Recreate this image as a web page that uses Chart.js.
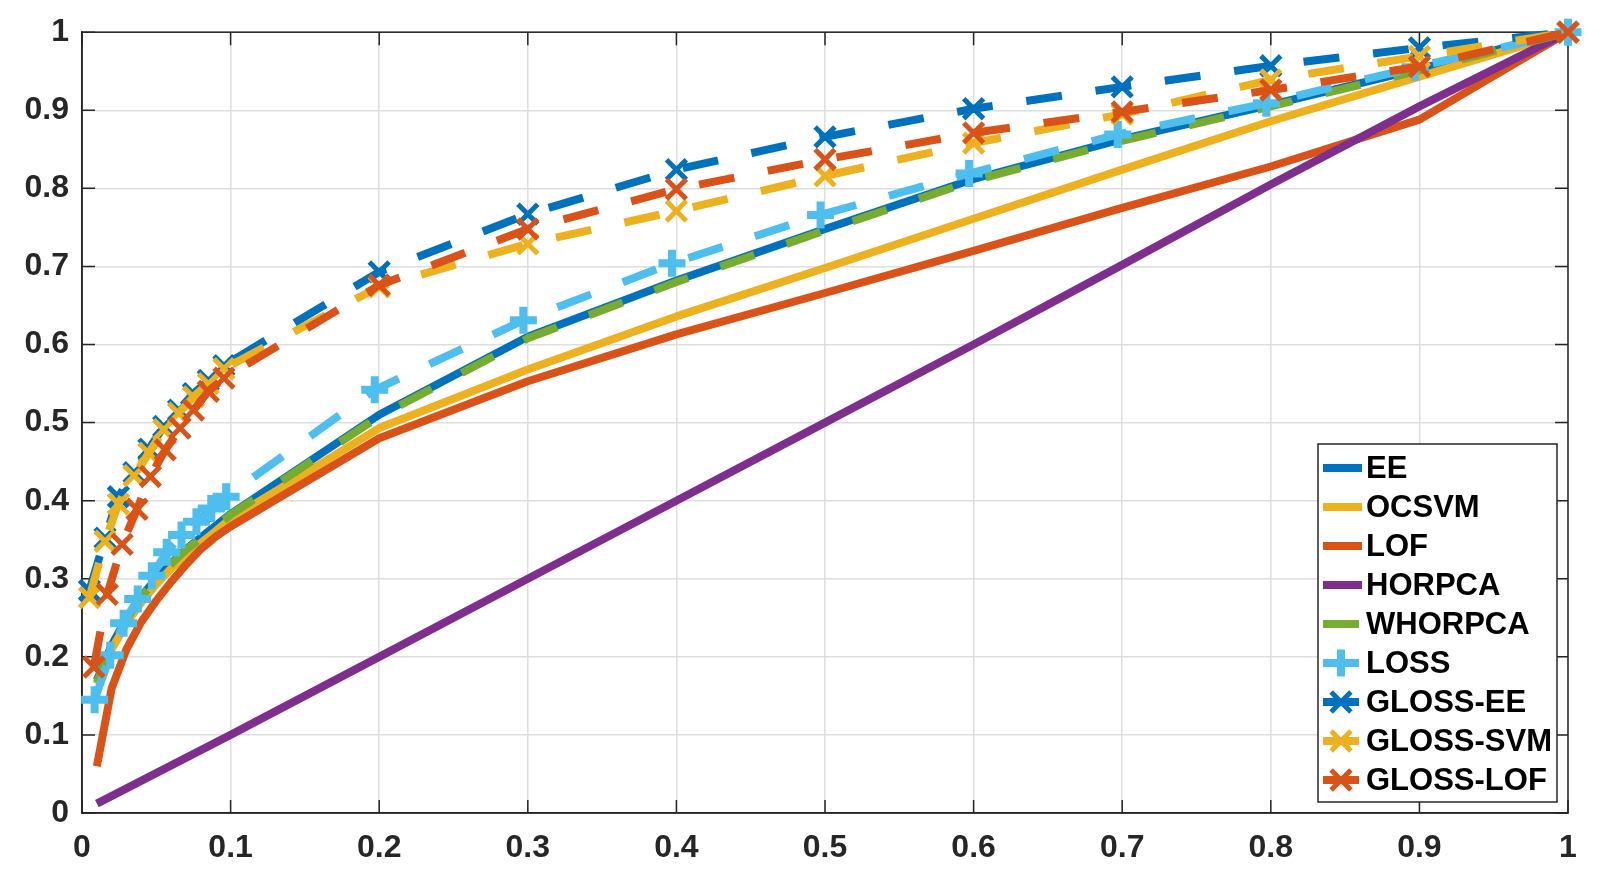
<!DOCTYPE html>
<html>
<head>
<meta charset="utf-8">
<script src="https://cdn.jsdelivr.net/npm/chart.js@4.4.1/dist/chart.umd.min.js"></script>
<style>
  html, body { margin: 0; padding: 0; background: #fff; }
  canvas { display: block; }
</style>
</head>
<body>
<canvas id="roc" width="1605" height="895" style="width:1605px;height:895px"></canvas>
<script>
// axis ticks
const xTicks = [0, 0.1, 0.2, 0.3, 0.4, 0.5, 0.6, 0.7, 0.8, 0.9, 1];
const yTicks = [0, 0.1, 0.2, 0.3, 0.4, 0.5, 0.6, 0.7, 0.8, 0.9, 1];
const xTickLabels = ['0', '0.1', '0.2', '0.3', '0.4', '0.5', '0.6', '0.7', '0.8', '0.9', '1'];
const yTickLabels = ['0', '0.1', '0.2', '0.3', '0.4', '0.5', '0.6', '0.7', '0.8', '0.9', '1'];

// false positive rates (x)
const baseFpr = [0.01, 0.02, 0.03, 0.04, 0.05, 0.06, 0.07, 0.08, 0.09, 0.1, 0.2, 0.3, 0.4, 0.5, 0.6, 0.7, 0.8, 0.9, 1];
const horpcaFpr = [0.01, 0.1, 0.2, 0.3, 0.4, 0.5, 0.6, 0.7, 0.8, 0.9, 1];
const lossFpr = [0.0085, 0.019, 0.028, 0.0375, 0.047, 0.057, 0.067, 0.077, 0.087, 0.097, 0.197, 0.297, 0.397, 0.497, 0.597, 0.697, 0.797, 0.897, 1];
const glossFpr = [0.005, 0.0155, 0.0245, 0.035, 0.045, 0.055, 0.065, 0.075, 0.085, 0.0955, 0.2, 0.3, 0.4, 0.5, 0.6, 0.7, 0.8, 0.9, 1];
const glossLofFpr = [0.008, 0.017, 0.027, 0.037, 0.046, 0.056, 0.066, 0.075, 0.085, 0.0955, 0.2, 0.3, 0.4, 0.5, 0.6, 0.7, 0.8, 0.9, 1];

// true positive rates (y)
const eeTpr = [0.17, 0.215, 0.25, 0.278, 0.30, 0.32, 0.338, 0.353, 0.368, 0.383, 0.51, 0.61, 0.682, 0.748, 0.812, 0.863, 0.907, 0.953, 1];
const ocsvmTpr = [0.165, 0.21, 0.243, 0.27, 0.293, 0.313, 0.331, 0.346, 0.361, 0.377, 0.493, 0.568, 0.636, 0.698, 0.761, 0.824, 0.886, 0.943, 1];
const lofTpr = [0.06, 0.16, 0.21, 0.245, 0.272, 0.296, 0.318, 0.338, 0.354, 0.367, 0.48, 0.553, 0.613, 0.666, 0.72, 0.775, 0.828, 0.888, 1];
const horpcaTpr = [0.012, 0.1, 0.2, 0.3, 0.4, 0.5, 0.6, 0.702, 0.805, 0.905, 1];
const whorpcaTpr = [0.167, 0.213, 0.248, 0.277, 0.299, 0.319, 0.337, 0.352, 0.367, 0.382, 0.508, 0.608, 0.68, 0.746, 0.81, 0.861, 0.905, 0.951, 1];
const lossTpr = [0.145, 0.202, 0.243, 0.274, 0.304, 0.334, 0.356, 0.373, 0.39, 0.405, 0.542, 0.631, 0.704, 0.766, 0.819, 0.869, 0.909, 0.955, 1];
const glossEeTpr = [0.285, 0.352, 0.405, 0.436, 0.466, 0.495, 0.516, 0.537, 0.554, 0.573, 0.693, 0.767, 0.824, 0.866, 0.902, 0.930, 0.957, 0.980, 1];
const glossSvmTpr = [0.276, 0.348, 0.396, 0.432, 0.461, 0.491, 0.512, 0.533, 0.55, 0.569, 0.674, 0.729, 0.771, 0.816, 0.858, 0.895, 0.939, 0.969, 1];
const glossLofTpr = [0.187, 0.28, 0.344, 0.389, 0.431, 0.465, 0.493, 0.516, 0.54, 0.557, 0.676, 0.748, 0.799, 0.837, 0.871, 0.898, 0.926, 0.956, 1];

const BLUE = '#0072BD', ORANGE = '#D95319', YELLOW = '#EDB120',
      PURPLE = '#7E2F8E', GREEN = '#77AC30', CYAN = '#4DBEEE';

function pts(xs, ys) {
    return xs.map((x, i) => ({ x: x, y: ys[i] }));
}

// series list, in MATLAB plot order (later ones sit on top)
const series = [
    { label: 'EE',        xs: baseFpr,     ys: eeTpr,       color: BLUE,   dashed: false, marker: null },
    { label: 'OCSVM',     xs: baseFpr,     ys: ocsvmTpr,    color: YELLOW, dashed: false, marker: null },
    { label: 'LOF',       xs: baseFpr,     ys: lofTpr,      color: ORANGE, dashed: false, marker: null },
    { label: 'HORPCA',    xs: horpcaFpr,   ys: horpcaTpr,   color: PURPLE, dashed: false, marker: null },
    { label: 'WHORPCA',   xs: baseFpr,     ys: whorpcaTpr,  color: GREEN,  dashed: true,  marker: null },
    { label: 'LOSS',      xs: lossFpr,     ys: lossTpr,     color: CYAN,   dashed: true,  marker: 'cross' },
    { label: 'GLOSS-EE',  xs: glossFpr,    ys: glossEeTpr,  color: BLUE,   dashed: true,  marker: 'crossRot' },
    { label: 'GLOSS-SVM', xs: glossFpr,    ys: glossSvmTpr, color: YELLOW, dashed: true,  marker: 'crossRot' },
    { label: 'GLOSS-LOF', xs: glossLofFpr, ys: glossLofTpr, color: ORANGE, dashed: true,  marker: 'crossRot' },
];

const datasets = series.map(function (s, i) {
    return {
        label: s.label,
        data: pts(s.xs, s.ys),
        borderColor: s.color,
        backgroundColor: s.color,
        borderWidth: 8,
        borderDash: s.dashed ? [36, 34] : [],
        borderJoinStyle: 'round',
        fill: false,
        tension: 0,
        clip: false,
        pointStyle: s.marker || 'circle',
        pointRadius: s.marker ? (s.marker === 'cross' ? 13.5 : 14) : 0,
        pointBorderWidth: s.marker === 'cross' ? 8 : 5,
        pointBorderColor: s.color,
        pointBackgroundColor: s.color,
        pointHoverRadius: 0,
        order: series.length - i, // first series drawn first (bottom)
        _marker: s.marker,
    };
});

const TXT = '#262626';
const FONT = "'Liberation Sans', Arial, Helvetica, sans-serif";

// box around the axes + inward ticks on all four sides
const framePlugin = {
    id: 'frame',
    beforeDatasetsDraw(chart) {
        const ctx = chart.ctx, a = chart.chartArea;
        const xs = chart.scales.x, ys = chart.scales.y;
        ctx.save();
        ctx.strokeStyle = TXT;
        ctx.lineWidth = 1.5;
        ctx.strokeRect(a.left, a.top, a.right - a.left, a.bottom - a.top);
        ctx.beginPath();
        xTicks.forEach(function (v) {
            const px = xs.getPixelForValue(v);
            ctx.moveTo(px, a.bottom); ctx.lineTo(px, a.bottom - 13);
            ctx.moveTo(px, a.top); ctx.lineTo(px, a.top + 13);
        });
        yTicks.forEach(function (v) {
            const py = ys.getPixelForValue(v);
            ctx.moveTo(a.left, py); ctx.lineTo(a.left + 13, py);
            ctx.moveTo(a.right, py); ctx.lineTo(a.right - 13, py);
        });
        ctx.stroke();
        ctx.restore();
    }
};

function drawMarker(ctx, kind, cx, cy, r) {
    ctx.beginPath();
    if (kind === 'cross') {
        ctx.lineWidth = 8;
        ctx.moveTo(cx - r, cy); ctx.lineTo(cx + r, cy);
        ctx.moveTo(cx, cy - r); ctx.lineTo(cx, cy + r);
    } else {
        const d = r * Math.SQRT1_2;
        ctx.lineWidth = 5;
        ctx.moveTo(cx - d, cy - d); ctx.lineTo(cx + d, cy + d);
        ctx.moveTo(cx - d, cy + d); ctx.lineTo(cx + d, cy - d);
    }
    ctx.stroke();
}

// MATLAB style legend box inside the south-east corner
const boxLegend = {
    id: 'boxLegend',
    afterDatasetsDraw(chart) {
        const ctx = chart.ctx, a = chart.chartArea;
        const w = 239, h = 358, rowH = 39;
        const left = a.right - 11 - w, top = a.bottom - 11 - h;
        ctx.save();
        ctx.fillStyle = '#fff';
        ctx.fillRect(left, top, w, h);
        ctx.strokeStyle = TXT;
        ctx.lineWidth = 1.5;
        ctx.strokeRect(left, top, w, h);

        chart.data.datasets.forEach(function (ds, i) {
            const cy = top + 24 + i * rowH;
            ctx.strokeStyle = ds.borderColor;
            ctx.lineWidth = 8;
            ctx.setLineDash([]);
            ctx.beginPath();
            ctx.moveTo(left + 5, cy);
            ctx.lineTo(left + (ds.borderDash.length ? 41 : 44), cy);
            ctx.stroke();
            if (ds._marker) {
                drawMarker(ctx, ds._marker, left + 23, cy, ds._marker === 'cross' ? 13.5 : 14);
            }
            ctx.fillStyle = '#000';
            ctx.font = 'bold 31px ' + FONT;
            ctx.textBaseline = 'middle';
            ctx.textAlign = 'left';
            ctx.fillText(ds.label, left + 48, cy + 1);
        });
        ctx.restore();
    }
};

new Chart(document.getElementById('roc'), {
    type: 'line',
    data: { datasets: datasets },
    options: {
        responsive: false,
        animation: false,
        devicePixelRatio: 1,
        layout: { padding: { top: 29, right: 37, left: 0, bottom: 0 } },
        plugins: {
            legend: { display: false },
            tooltip: { enabled: false },
        },
        scales: {
            x: {
                type: 'linear',
                min: 0, max: 1,
                afterBuildTicks: function (scale) { scale.ticks = xTicks.map(v => ({ value: v })); },
                afterFit: function (scale) { scale.height = 82; },
                ticks: {
                    autoSkip: false,
                    maxRotation: 0,
                    padding: 16,
                    color: TXT,
                    font: { family: FONT, size: 32, weight: 'bold' },
                    callback: function (v, i) { return xTickLabels[i]; },
                },
                grid: { color: '#dedede', lineWidth: 1.5, drawTicks: false },
                border: { display: true, color: TXT, width: 1.5 },
            },
            y: {
                type: 'linear',
                min: 0, max: 1,
                afterBuildTicks: function (scale) { scale.ticks = yTicks.map(v => ({ value: v })); },
                afterFit: function (scale) { scale.width = 82; },
                ticks: {
                    autoSkip: false,
                    padding: 13,
                    color: TXT,
                    font: { family: FONT, size: 32, weight: 'bold' },
                    callback: function (v, i) { return yTickLabels[i]; },
                },
                grid: { color: '#dedede', lineWidth: 1.5, drawTicks: false },
                border: { display: true, color: TXT, width: 1.5 },
            },
        },
    },
    plugins: [framePlugin, boxLegend],
});
</script>
</body>
</html>
